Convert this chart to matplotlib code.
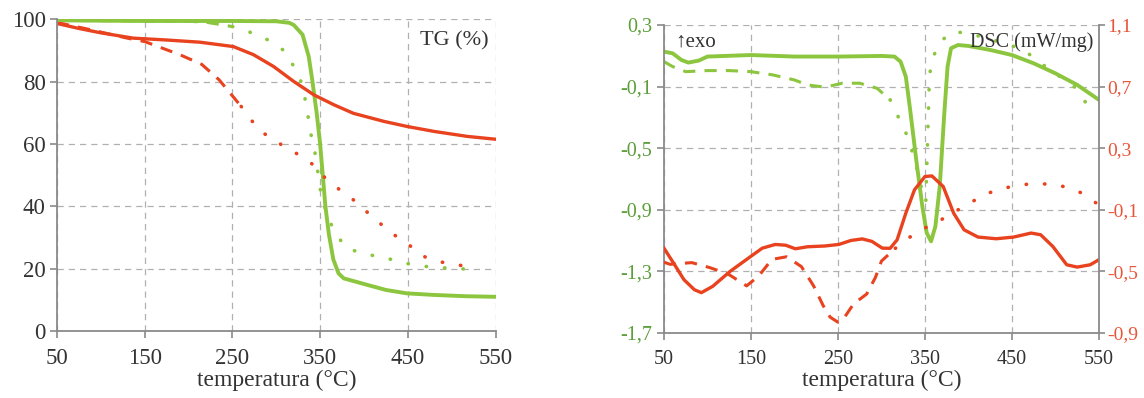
import numpy as np
import matplotlib
matplotlib.use('Agg')
import matplotlib.pyplot as plt

plt.rcParams['font.family'] = ['Liberation Serif', 'DejaVu Serif']

# --- TG (%) data ---
tg_green_T = [50, 100, 150, 200, 250, 300, 315, 320, 330, 337, 341, 346, 350, 353, 356, 360, 365, 371, 377, 390, 404, 425, 449, 480, 515, 550]
tg_green_v = [99.6, 99.5, 99.4, 99.4, 99.4, 99.3, 98.8, 98.1, 95.0, 88.0, 80.5, 70.0, 60.0, 50.0, 40.0, 31.0, 23.0, 18.5, 16.9, 15.9, 14.8, 13.2, 12.1, 11.6, 11.2, 11.0]

tg_red_T = [50, 75, 100, 137, 175, 213, 251, 274, 297, 320, 343, 366, 388, 423, 449, 480, 518, 550]
tg_red_v = [98.6, 97.0, 95.6, 93.9, 93.3, 92.6, 91.2, 88.6, 84.8, 80.0, 75.7, 72.5, 69.8, 67.2, 65.6, 64.0, 62.4, 61.5]

tg_red2_T = [50, 90, 130, 150, 190, 215, 235, 260, 280, 300, 320, 340, 350, 365, 385, 400, 415, 430, 450, 460, 475, 500, 525]
tg_red2_v = [98.9, 96.5, 93.9, 92.8, 88.6, 85.5, 80.5, 72.0, 64.5, 60.7, 57.5, 53.8, 50.6, 46.8, 42.8, 39.0, 35.4, 31.6, 28.1, 25.2, 23.0, 21.4, 20.6]

tg_green2_T = [50, 100, 150, 200, 220, 250, 270, 290, 310, 320, 330, 335, 340, 345, 348, 352, 358, 365, 380, 400, 420, 440, 455, 475, 500, 525]
tg_green2_v = [99.6, 99.5, 99.4, 99.3, 99.0, 97.6, 95.8, 93.4, 89.7, 84.8, 78.9, 70.9, 62.4, 56.0, 49.5, 42.0, 37.8, 32.4, 26.5, 24.9, 23.6, 22.5, 21.2, 20.6, 20.1, 19.8]

# --- DSC (mW/mg) data ---
dsc_green_T = [50, 60, 70, 78, 90, 100, 150, 200, 250, 300, 315, 322, 328, 333, 340, 347, 352, 357, 362, 367, 372, 376, 380, 388, 400, 425, 450, 475, 500, 525, 550]
dsc_green_v = [0.127, 0.116, 0.073, 0.056, 0.069, 0.095, 0.105, 0.095, 0.095, 0.099, 0.095, 0.062, -0.035, -0.251, -0.576, -0.878, -1.05, -1.105, -1.008, -0.749, -0.295, 0.03, 0.149, 0.17, 0.164, 0.138, 0.105, 0.051, -0.014, -0.089, -0.186]

dsc_green2_T = [50, 60, 75, 100, 125, 150, 175, 200, 215, 235, 255, 275, 295, 310, 320, 330, 337, 342, 347, 351, 355, 357, 367, 382, 400, 430, 464, 475, 496, 521, 537]
dsc_green2_v = [0.062, 0.03, -0.003, 0.004, 0.004, -0.003, -0.024, -0.057, -0.089, -0.104, -0.078, -0.078, -0.111, -0.186, -0.305, -0.424, -0.554, -0.662, -0.78, -0.85, -0.068, 0.06, 0.19, 0.257, 0.246, 0.2, 0.14, 0.085, 0.0, -0.097, -0.22]

dsc_red_T = [50, 61, 73, 85, 93, 106, 126, 147, 163, 178, 190, 201, 215, 235, 251, 265, 278, 289, 301, 310, 318, 328, 338, 350, 358, 371, 383, 395, 411, 432, 452, 472, 483, 497, 513, 525, 540, 550]
dsc_red_v = [-0.349, -0.446, -0.554, -0.619, -0.638, -0.597, -0.5, -0.414, -0.349, -0.325, -0.33, -0.353, -0.34, -0.335, -0.325, -0.299, -0.289, -0.305, -0.349, -0.35, -0.295, -0.122, 0.03, 0.116, 0.12, 0.051, -0.122, -0.23, -0.277, -0.288, -0.277, -0.251, -0.262, -0.338, -0.457, -0.472, -0.457, -0.424]

dsc_red2_T = [50, 57, 82, 103, 124, 145, 159, 174, 191, 208, 222, 233, 241, 250, 255, 268, 283, 293, 300, 316, 333, 350, 364, 382, 400, 420, 439, 460, 477, 504, 529, 550]
dsc_red2_v = [-0.44, -0.454, -0.443, -0.476, -0.518, -0.594, -0.529, -0.422, -0.405, -0.469, -0.594, -0.722, -0.797, -0.83, -0.819, -0.711, -0.647, -0.54, -0.433, -0.35, -0.276, -0.218, -0.18, -0.12, -0.061, 0.003, 0.039, 0.061, 0.072, 0.061, 0.012, -0.068]

x_ticks = [50, 150, 250, 350, 450, 550]
tg_ticks = [0, 20, 40, 60, 80, 100]
dsc_ticks = [-1.7, -1.3, -0.9, -0.5, -0.1, 0.3]
dsc_right_ticks = [-0.9, -0.5, -0.1, 0.3, 0.7, 1.1]

green = '#8cc63f'
red = '#e8421e'
green_lbl = '#5c9e3a'
red_lbl = '#e8563a'
gray = '#8a8a8a'
txt = '#333333'


def split_plot(ax, T, v, cut, color):
    T = np.array(T)
    v = np.array(v)
    i = (T <= cut).sum()
    ax.plot(T[:i + 1], v[:i + 1], color=color, lw=2.2, linestyle=(0, (4, 3)))
    ax.plot(T[i:], v[i:], color=color, lw=2.6, linestyle=(0, (0.1, 5)),
            dash_capstyle='round')


def style(ax, fs):
    ax.set_xlim(50, 550)
    ax.set_xticks(x_ticks)
    ax.grid(True, color='#b0b0b0', linestyle=(0, (5, 4)), lw=0.9)
    ax.spines['top'].set_visible(False)
    ax.spines['right'].set_visible(False)
    for s in ['left', 'bottom']:
        ax.spines[s].set_color(gray)
        ax.spines[s].set_linewidth(1.3)
    ax.tick_params(direction='out', length=5, color=gray, width=1.2,
                   labelsize=fs, labelcolor=txt)
    ax.tick_params(axis='x', pad=7)
    ax.set_xlabel('temperatura (°C)', fontsize=17, color=txt, labelpad=1)


fig = plt.figure(figsize=(11.44, 3.98), dpi=100)

# left: TG
ax1 = fig.add_axes([0.0498, 0.168, 0.3834, 0.784])
ax1.plot(tg_green_T, tg_green_v, color=green, lw=2.8)
ax1.plot(tg_red_T, tg_red_v, color=red, lw=2.4)
split_plot(ax1, tg_red2_T, tg_red2_v, 255, red)
split_plot(ax1, tg_green2_T, tg_green2_v, 240, green)
ax1.set_ylim(0, 100)
ax1.set_yticks(tg_ticks)
style(ax1, 16.5)
ax1.tick_params(axis='y', pad=3)
ax1.text(0.985, 0.93, 'TG (%)', transform=ax1.transAxes, ha='right', va='center',
         fontsize=16, color=txt)

# right: DSC
ax2 = fig.add_axes([0.5804, 0.1633, 0.3802, 0.7739])
ax3 = ax2.twinx()
ax2.plot(dsc_green_T, dsc_green_v, color=green, lw=2.8)
split_plot(ax2, dsc_green2_T, dsc_green2_v, 300, green)
ax3.plot(dsc_red_T, dsc_red_v, color=red, lw=2.4)
split_plot(ax3, dsc_red2_T, dsc_red2_v, 300, red)
ax2.set_ylim(-1.7, 0.3)
ax2.set_yticks(dsc_ticks)
ax2.set_yticklabels([f'{t:.1f}'.replace('.', ',') for t in dsc_ticks])
ax3.set_ylim(-0.9, 1.1)
ax3.set_yticks(dsc_right_ticks)
ax3.set_yticklabels([f'{t:.1f}'.replace('.', ',') for t in dsc_right_ticks])
style(ax2, 14.5)
ax2.tick_params(axis='y', labelcolor=green_lbl)
for s in ['top', 'left', 'bottom']:
    ax3.spines[s].set_visible(False)
ax3.spines['right'].set_color(gray)
ax3.spines['right'].set_linewidth(1.3)
ax3.tick_params(direction='out', length=4, color=gray, width=1.2, pad=2,
                labelsize=14, labelcolor=red_lbl)
ax2.text(0.026, 0.945, '↑exo', transform=ax2.transAxes, ha='left', va='center',
         fontsize=15, color=txt)
ax2.text(0.988, 0.945, 'DSC (mW/mg)', transform=ax2.transAxes, ha='right', va='center',
         fontsize=14.5, color=txt)

fig.savefig('out.png', dpi=100)
